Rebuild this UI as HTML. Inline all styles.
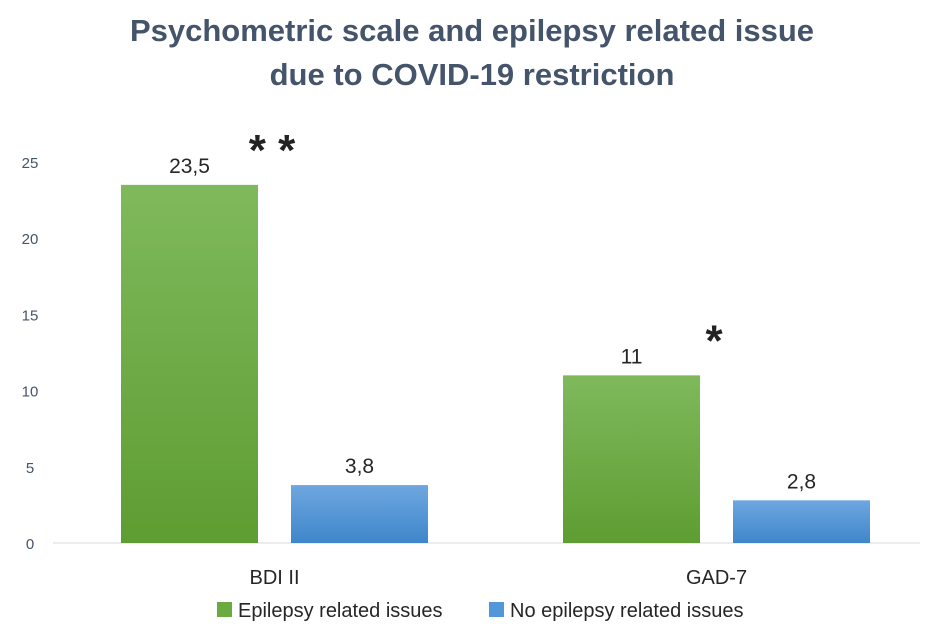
<!DOCTYPE html>
<html><head><meta charset="utf-8"><style>
html,body{margin:0;padding:0;background:#fff;}
svg{display:block;font-family:"Liberation Sans",sans-serif;}
</style></head><body>
<svg id="chart" width="945" height="640" viewBox="0 0 945 640">
<defs>
<linearGradient id="gGreen" x1="0" y1="0" x2="0" y2="1"><stop offset="0" stop-color="#7fb95c"/><stop offset="1" stop-color="#5e9d32"/></linearGradient>
<linearGradient id="gBlue" x1="0" y1="0" x2="0" y2="1"><stop offset="0" stop-color="#6ea7e0"/><stop offset="1" stop-color="#3f86cb"/></linearGradient>
</defs>
<text x="472" y="41" text-anchor="middle" font-size="31" font-weight="bold" fill="#44546a">Psychometric scale and epilepsy related issue</text>
<text x="472" y="85" text-anchor="middle" font-size="31" font-weight="bold" fill="#44546a">due to COVID-19 restriction</text>
<g id="axis"></g>
<g id="bars"></g>
<g id="legend">
<rect x="217" y="602" width="15" height="15" fill="#6aaa3e"/>
<text x="238" y="617" font-size="20" fill="#262626">Epilepsy related issues</text>
<rect x="489" y="602" width="15" height="15" fill="#5297d8"/>
<text x="510" y="617" font-size="20" fill="#262626">No epilepsy related issues</text>
</g>
</svg>
<script>
const categories = ["BDI II", "GAD-7"];
const epilepsyValues = [23.5, 11];
const noEpilepsyValues = [3.8, 2.8];
const valueLabelsEpilepsy = ["23,5", "11"];
const valueLabelsNo = ["3,8", "2,8"];
const significance = ["* *", "*"];
const yTicks = [0, 5, 10, 15, 20, 25];

const NS = "http://www.w3.org/2000/svg";
const y0 = 543, pxPerUnit = 15.24;
function yScale(v){ return y0 - v * pxPerUnit; }
const groupStart = [121, 563];
const barW = 137, gap = 33;
function mk(tag, attrs, parent){ const e = document.createElementNS(NS, tag); for (const k in attrs) e.setAttribute(k, attrs[k]); parent.appendChild(e); return e; }

const axis = document.getElementById('axis');
yTicks.forEach(t => {
  const tx = mk('text', {x: 30, y: yScale(t) + 6, 'text-anchor': 'middle', 'font-size': 15, fill: '#44546a'}, axis);
  tx.textContent = t;
  
  
});
const base = mk('line', {x1: 53, x2: 920, y1: y0, y2: y0, stroke: '#d9d9d9', 'stroke-width': 1}, axis);



const bars = document.getElementById('bars');
categories.forEach((c, i) => {
  const gx = groupStart[i];
  const ge = yScale(epilepsyValues[i]);
  const r1 = mk('rect', {x: gx, y: ge, width: barW, height: y0 - ge, fill: 'url(#gGreen)'}, bars);
  
  
  const bx = gx + barW + gap;
  const gn = yScale(noEpilepsyValues[i]);
  const r2 = mk('rect', {x: bx, y: gn, width: barW, height: y0 - gn, fill: 'url(#gBlue)'}, bars);
  
  
  const l1 = mk('text', {x: gx + barW/2, y: ge - 12, 'text-anchor': 'middle', 'font-size': 21, fill: '#262626'}, bars);
  l1.textContent = valueLabelsEpilepsy[i];
  
  
  const l2 = mk('text', {x: bx + barW/2, y: gn - 12, 'text-anchor': 'middle', 'font-size': 21, fill: '#262626'}, bars);
  l2.textContent = valueLabelsNo[i];
  
  
  const s = mk('text', {x: gx + barW + 14, y: ge - 20, 'text-anchor': 'middle', 'font-size': 44, 'font-weight': 'bold', fill: '#222'}, bars);
  s.textContent = significance[i];
  
  
  const cl = mk('text', {x: gx + barW + gap/2, y: 584, 'text-anchor': 'middle', 'font-size': 20, fill: '#262626'}, bars);
  cl.textContent = c;
  
  
});
</script>
</body></html>
